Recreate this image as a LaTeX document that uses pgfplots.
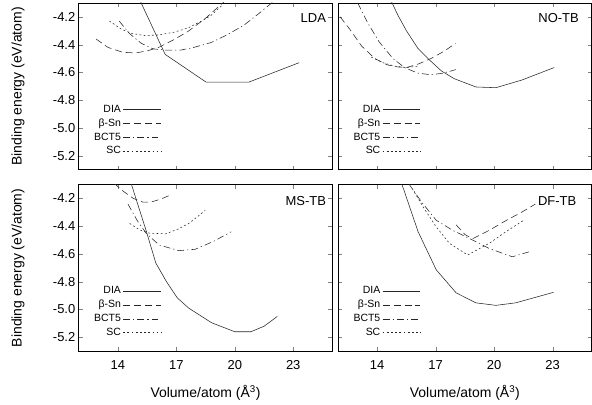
\documentclass[border=0pt]{standalone}
\usepackage{fontspec}
\setmainfont{Liberation Sans}
\usepackage{pgfplots}
\pgfplotsset{compat=1.18}
\usepgfplotslibrary{groupplots}

\pgfplotsset{
  dia/.style={black!85, line width=0.55pt, solid},
  bsn/.style={black!85, line width=0.55pt, dash pattern=on 7pt off 4pt},
  bct/.style={black!85, line width=0.55pt, dash pattern=on 7pt off 3pt on 1.2pt off 3pt},
  sc/.style={black!85, line width=0.55pt, dash pattern=on 1.8pt off 2.4pt},
}
\tikzset{ptitle/.style={anchor=north east, inner sep=0pt, font=\fontsize{13}{15}\selectfont}}

\begin{document}
\begin{tikzpicture}
\begin{groupplot}[
    group style={
        group size=2 by 2,
        horizontal sep=6pt,
        vertical sep=15pt,
        xticklabels at=edge bottom,
        yticklabels at=edge left,
        xlabels at=edge bottom,
        ylabels at=edge left,
    },
    width=254pt, height=167pt,
    scale only axis,
    xmin=12, xmax=25,
    ymin=-5.3, ymax=-4.1,
    xtick={14,17,20,23},
    ytick={-5.2,-5.0,-4.8,-4.6,-4.4,-4.2},
    tick pos=both,
    tick align=inside,
    major tick length=4pt,
    axis line style={line width=0.8pt},
    /pgf/number format/assume math mode=true,
    yticklabel style={/pgf/number format/fixed,
        /pgf/number format/fixed zerofill,
        /pgf/number format/precision=1},
    xticklabel style={yshift=-6pt},
    tick label style={font=\fontsize{13}{15}\selectfont},
    xlabel={Volume/atom (Å\textsuperscript{3})},
    ylabel={Binding energy (eV/atom)},
    every axis x label/.style={at={(axis description cs:0.5,-0.25)}, anchor=center,
        font=\fontsize{14}{16}\selectfont},
    every axis y label/.style={at={(axis description cs:-0.24,0.5)}, anchor=center, rotate=90,
        font=\fontsize{14}{16}\selectfont},
    no markers,
    legend plot pos=right,
    legend cell align=right,
    legend image code/.code={\draw[#1] (6pt,0pt) -- (44pt,0pt);},
    legend style={at={(0.04,0.06)}, anchor=south west, draw=none, fill=none,
        font=\fontsize{10.5}{12}\selectfont, row sep=1pt},
]

% ---------- LDA ----------
\nextgroupplot
\coordinate (tl) at (rel axis cs:0,1);
\addplot[dia] coordinates {(15.0,-4.04) (16.43,-4.47) (18.53,-4.67) (20.72,-4.67) (23.3,-4.53)};
\addlegendentry{DIA}
\addplot[bsn] coordinates {(12.89,-4.36) (13.5,-4.42) (14.24,-4.455) (14.91,-4.46) (15.5,-4.445)
    (16.09,-4.42) (16.8,-4.37) (17.6,-4.305) (18.5,-4.21) (19.46,-4.09)};
\addlegendentry{β-Sn}
\addplot[bct] coordinates {(14.07,-4.23) (14.6,-4.32) (15.2,-4.39) (15.8,-4.43) (16.5,-4.44)
    (17.2,-4.44) (17.9,-4.42) (18.78,-4.385) (19.6,-4.33) (20.47,-4.26) (21.2,-4.18) (21.98,-4.09)};
\addlegendentry{BCT5}
\addplot[sc] coordinates {(13.57,-4.23) (14.2,-4.29) (14.74,-4.32) (15.4,-4.335) (16.09,-4.33)
    (16.9,-4.31) (17.6,-4.28) (18.3,-4.23) (18.78,-4.19) (19.4,-4.11)};
\addlegendentry{SC}
\node[ptitle] at (rel axis cs:0.976,0.94) {LDA};

% ---------- NO-TB ----------
\nextgroupplot
\addplot[dia] coordinates {(14.7,-4.08) (15.07,-4.19) (15.5,-4.3) (16.08,-4.425) (16.68,-4.51)
    (17.3,-4.59) (17.95,-4.645) (19.07,-4.705) (20.09,-4.71) (21.42,-4.655) (23.08,-4.565)};
\addlegendentry{DIA}
\addplot[bsn] coordinates {(12.1,-4.2) (12.6,-4.29) (13.2,-4.41) (13.88,-4.5) (14.5,-4.545)
    (15.0,-4.56) (15.5,-4.565) (16.1,-4.54) (16.76,-4.50) (17.4,-4.45) (18.03,-4.39)};
\addlegendentry{β-Sn}
\addplot[bct] coordinates {(13.0,-4.1) (13.5,-4.24) (14.1,-4.38) (14.81,-4.5) (15.4,-4.565)
    (16.08,-4.605) (16.76,-4.617) (17.4,-4.605) (18.03,-4.58)};
\addlegendentry{BCT5}
\addplot[sc] coordinates {(13.7,-4.49) (14.3,-4.53) (14.9,-4.555) (15.5,-4.565) (16.1,-4.555)};
\addlegendentry{SC}
\node[ptitle] at (rel axis cs:0.95,0.94) {NO-TB};

% ---------- MS-TB ----------
\nextgroupplot
\addplot[dia] coordinates {(14.68,-4.09) (15.45,-4.43) (15.95,-4.665) (16.5,-4.8) (17.05,-4.916)
    (17.64,-4.99) (18.81,-5.095) (20.0,-5.16) (20.83,-5.16) (21.51,-5.12) (22.18,-5.05)};
\addlegendentry{DIA}
\addplot[bsn] coordinates {(13.8,-4.09) (14.3,-4.15) (14.8,-4.2) (15.28,-4.226) (15.7,-4.226)
    (16.2,-4.205) (16.79,-4.17)};
\addlegendentry{β-Sn}
\addplot[bct] coordinates {(14.52,-4.24) (15.0,-4.36) (15.45,-4.45) (16.12,-4.535) (17.13,-4.576)
    (17.97,-4.566) (18.9,-4.51) (19.82,-4.44)};
\addlegendentry{BCT5}
\addplot[sc] coordinates {(14.61,-4.38) (15.1,-4.425) (15.62,-4.45) (16.46,-4.455) (17.1,-4.42)
    (17.64,-4.38) (18.1,-4.33) (18.48,-4.286)};
\addlegendentry{SC}
\node[ptitle] at (rel axis cs:0.976,0.93) {MS-TB};

% ---------- DF-TB ----------
\nextgroupplot
\coordinate (br) at (rel axis cs:1,0);
\addplot[dia] coordinates {(15.25,-4.09) (16.1,-4.44) (17.03,-4.714) (18.05,-4.88) (19.07,-4.952)
    (20.09,-4.97) (21.1,-4.952) (23.05,-4.876)};
\addlegendentry{DIA}
\addplot[bsn] coordinates {(18.05,-4.39) (18.5,-4.46) (18.9,-4.49) (19.74,-4.43) (20.6,-4.36)
    (21.4,-4.3) (22.12,-4.24)};
\addlegendentry{β-Sn}
\addplot[bct] coordinates {(15.6,-4.09) (16.3,-4.23) (17.03,-4.357) (17.88,-4.43) (18.9,-4.5)
    (19.74,-4.56) (20.93,-4.62) (21.78,-4.585)};
\addlegendentry{BCT5}
\addplot[sc] coordinates {(15.8,-4.13) (16.4,-4.27) (17.03,-4.405) (17.71,-4.524) (18.64,-4.607)
    (19.74,-4.524) (20.6,-4.44) (21.52,-4.357)};
\addlegendentry{SC}
\node[ptitle] at (rel axis cs:0.94,0.93) {DF-TB};
\end{groupplot}
\path ([shift={(-79pt,3pt)}]tl) rectangle ([shift={(0pt,-53pt)}]br);
\end{tikzpicture}
\end{document}
